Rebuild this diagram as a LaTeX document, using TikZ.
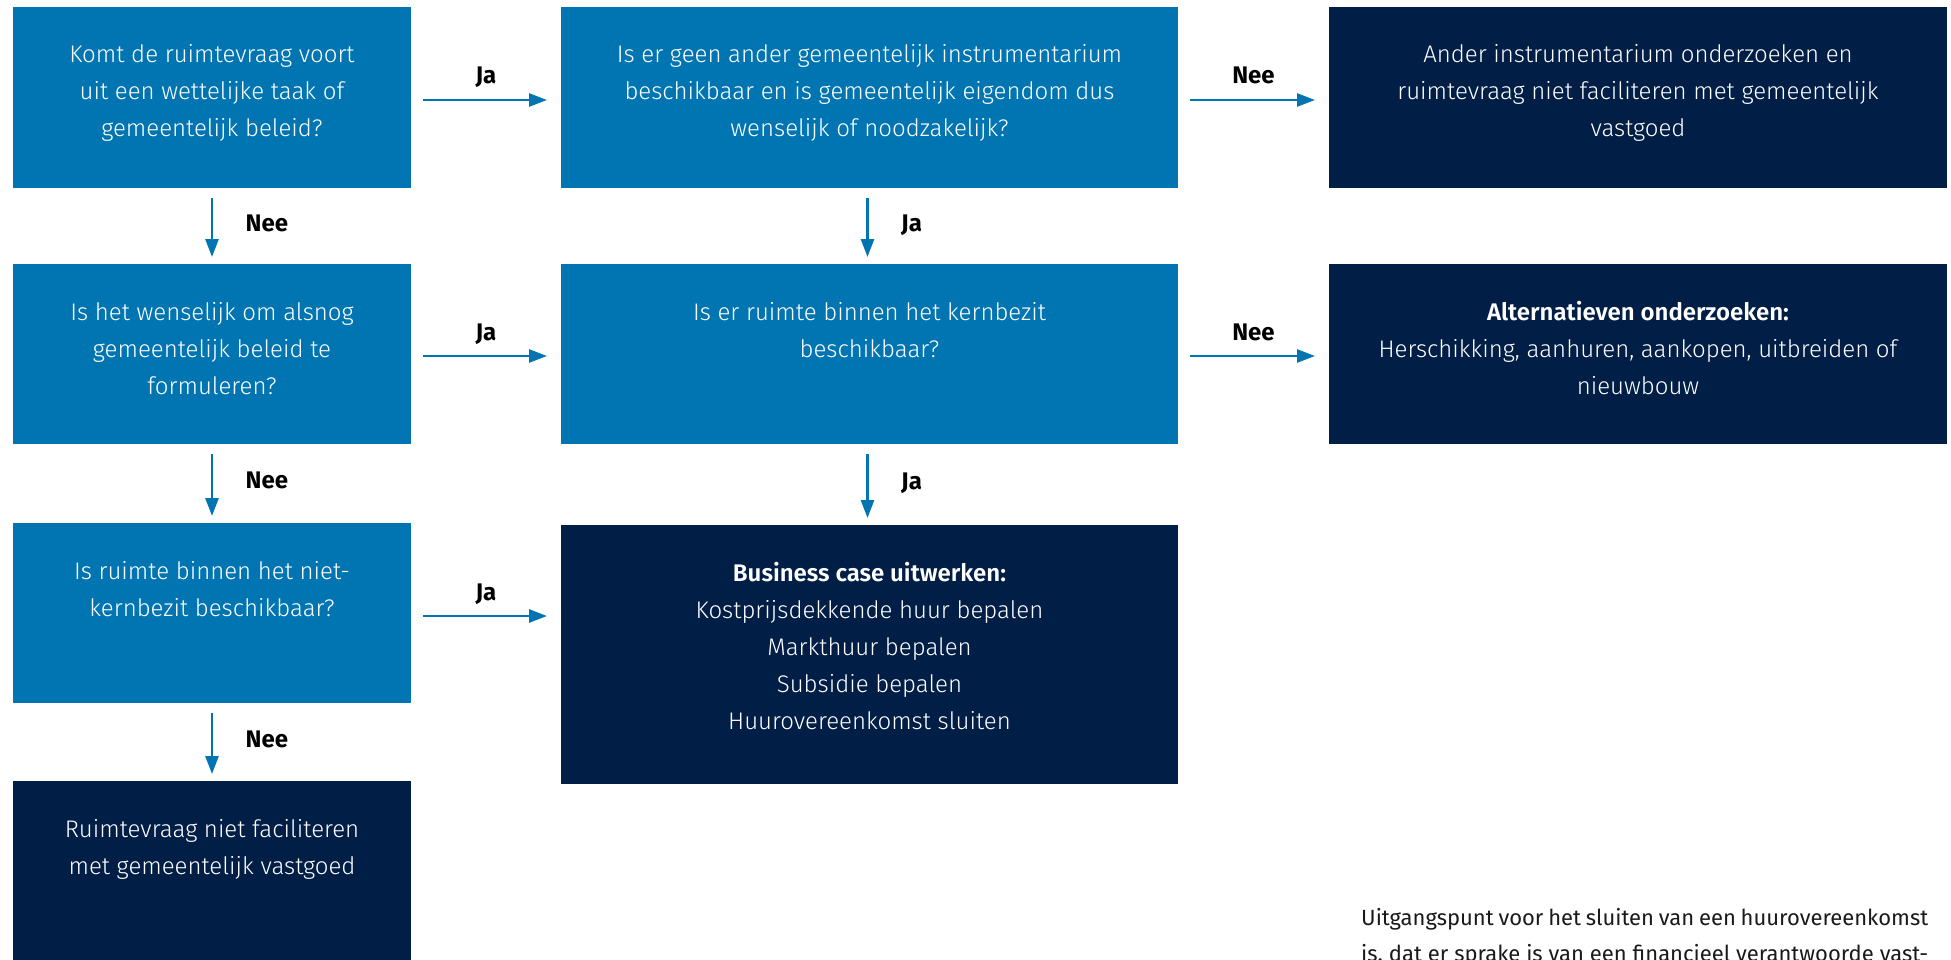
\documentclass[tikz,border=0pt]{standalone}
\usepackage{fontspec}
\setmainfont{Fira Sans}
\newfontfamily\boxfont{Fira Sans Light}[BoldFont=Fira Sans SemiBold]
\usetikzlibrary{arrows.meta}

\definecolor{qblue}{HTML}{0175B2}
\definecolor{navy}{HTML}{011E46}
\definecolor{ink}{HTML}{1A1A1A}

% box contents: fixed-size top-aligned block, first baseline 56pt below the top edge
\newcommand\boxtext[3]{\parbox[t][#1][t]{#2}{\centering\rule{0pt}{56pt}\ignorespaces#3}}

\tikzset{
  question/.style={fill=qblue, inner sep=0pt, outer sep=0pt, anchor=north west,
    text=white, font=\boxfont\fontsize{24}{37}\selectfont},
  outcome/.style={question, fill=navy},
  arr/.style={draw=qblue, line width=2.7pt, -{Triangle[length=18pt,width=13pt]}},
  hgap/.style={shorten <=12pt, shorten >=14pt},
  vgap/.style={shorten <=10pt, shorten >=7pt},
  hlbl/.style={anchor=base, yshift=16pt, text=black,
    font=\fontsize{24}{28}\selectfont\bfseries},
  vlbl/.style={anchor=base west, xshift=29pt, yshift=-5pt, text=black,
    font=\fontsize{24}{28}\selectfont\bfseries},
}

\begin{document}
\begin{tikzpicture}[x=1pt, y=-1pt]
  \useasboundingbox (0,0) rectangle (1951,960);
  \fill[white] (0,0) rectangle (1951,960);
  \clip (0,0) rectangle (1951,960);

  % left column
  \node[question] (a1) at (13,7) {\boxtext{181pt}{398pt}{Komt de ruimtevraag voort\\uit een wettelijke taak of\\gemeentelijk beleid?}};
  \node[question] (a2) at (13,264) {\boxtext{180pt}{398pt}{Is het wenselijk om alsnog\\gemeentelijk beleid te\\formuleren?}};
  \node[question] (a3) at (13,523) {\boxtext{180pt}{398pt}{Is ruimte binnen het niet-\\kernbezit beschikbaar?}};
  \node[outcome] (a4) at (13,781) {\boxtext{179pt}{398pt}{Ruimtevraag niet faciliteren\\met gemeentelijk vastgoed}};

  % middle column
  \node[question] (b1) at (561,7) {\boxtext{181pt}{617pt}{Is er geen ander gemeentelijk instrumentarium\\beschikbaar en is gemeentelijk eigendom dus\\wenselijk of noodzakelijk?}};
  \node[question] (b2) at (561,264) {\boxtext{180pt}{617pt}{Is er ruimte binnen het kernbezit\\beschikbaar?}};
  \node[outcome] (b3) at (561,525) {\boxtext{259pt}{617pt}{\textbf{Business case uitwerken:}\\Kostprijsdekkende huur bepalen\\Markthuur bepalen\\Subsidie bepalen\\Huurovereenkomst sluiten}};

  % right column
  \node[outcome] (c1) at (1329,7) {\boxtext{181pt}{618pt}{Ander instrumentarium onderzoeken en\\ruimtevraag niet faciliteren met gemeentelijk\\vastgoed}};
  \node[outcome] (c2) at (1329,264) {\boxtext{180pt}{618pt}{\textbf{Alternatieven onderzoeken:}\\Herschikking, aanhuren, aankopen, uitbreiden of\\nieuwbouw}};

  % horizontal connectors
  \draw[arr, hgap] ([yshift=-2.5pt]a1.east) -- ([yshift=-2.5pt]b1.west) node[hlbl, midway] (l1) {Ja};
  \draw[arr, hgap] ([yshift=-2.5pt]b1.east) -- ([yshift=-2.5pt]c1.west) node[hlbl, midway] (l2) {Nee};
  \draw[arr, hgap] ([yshift=-2pt]a2.east) -- ([yshift=-2pt]b2.west) node[hlbl, midway] (l3) {Ja};
  \draw[arr, hgap] ([yshift=-2pt]b2.east) -- ([yshift=-2pt]c2.west) node[hlbl, midway] (l4) {Nee};
  \coordinate (r3) at ([yshift=-3pt]a3.east);
  \draw[arr, hgap] (r3) -- (r3 -| b3.west) node[hlbl, midway] (l5) {Ja};

  % vertical connectors
  \draw[arr, vgap] (a1.south) -- (a2.north) node[vlbl, midway] (l6) {Nee};
  \draw[arr, vgap] (a2.south) -- (a3.north) node[vlbl, midway] (l7) {Nee};
  \draw[arr, vgap] (a3.south) -- (a4.north) node[vlbl, midway] (l8) {Nee};
  \draw[arr, vgap] ([xshift=-2pt]b1.south) -- ([xshift=-2pt]b2.north) node[vlbl, midway] (l9) {Ja};
  \draw[arr, vgap] ([xshift=-2pt]b2.south) -- ([xshift=-2pt]b3.north) node[vlbl, midway] (l10) {Ja};

  % running text
  \node[anchor=base west, inner sep=0pt, text=ink, font=\fontsize{22}{36}\selectfont] (note) at (1361,925)
    {\parbox[t]{567pt}{\makebox[567pt][s]{Uitgangspunt voor het sluiten van een huurovereenkomst}\\
     \makebox[567pt][s]{is, dat er sprake is van een financieel verantwoorde vast-}}};
\end{tikzpicture}
\end{document}
